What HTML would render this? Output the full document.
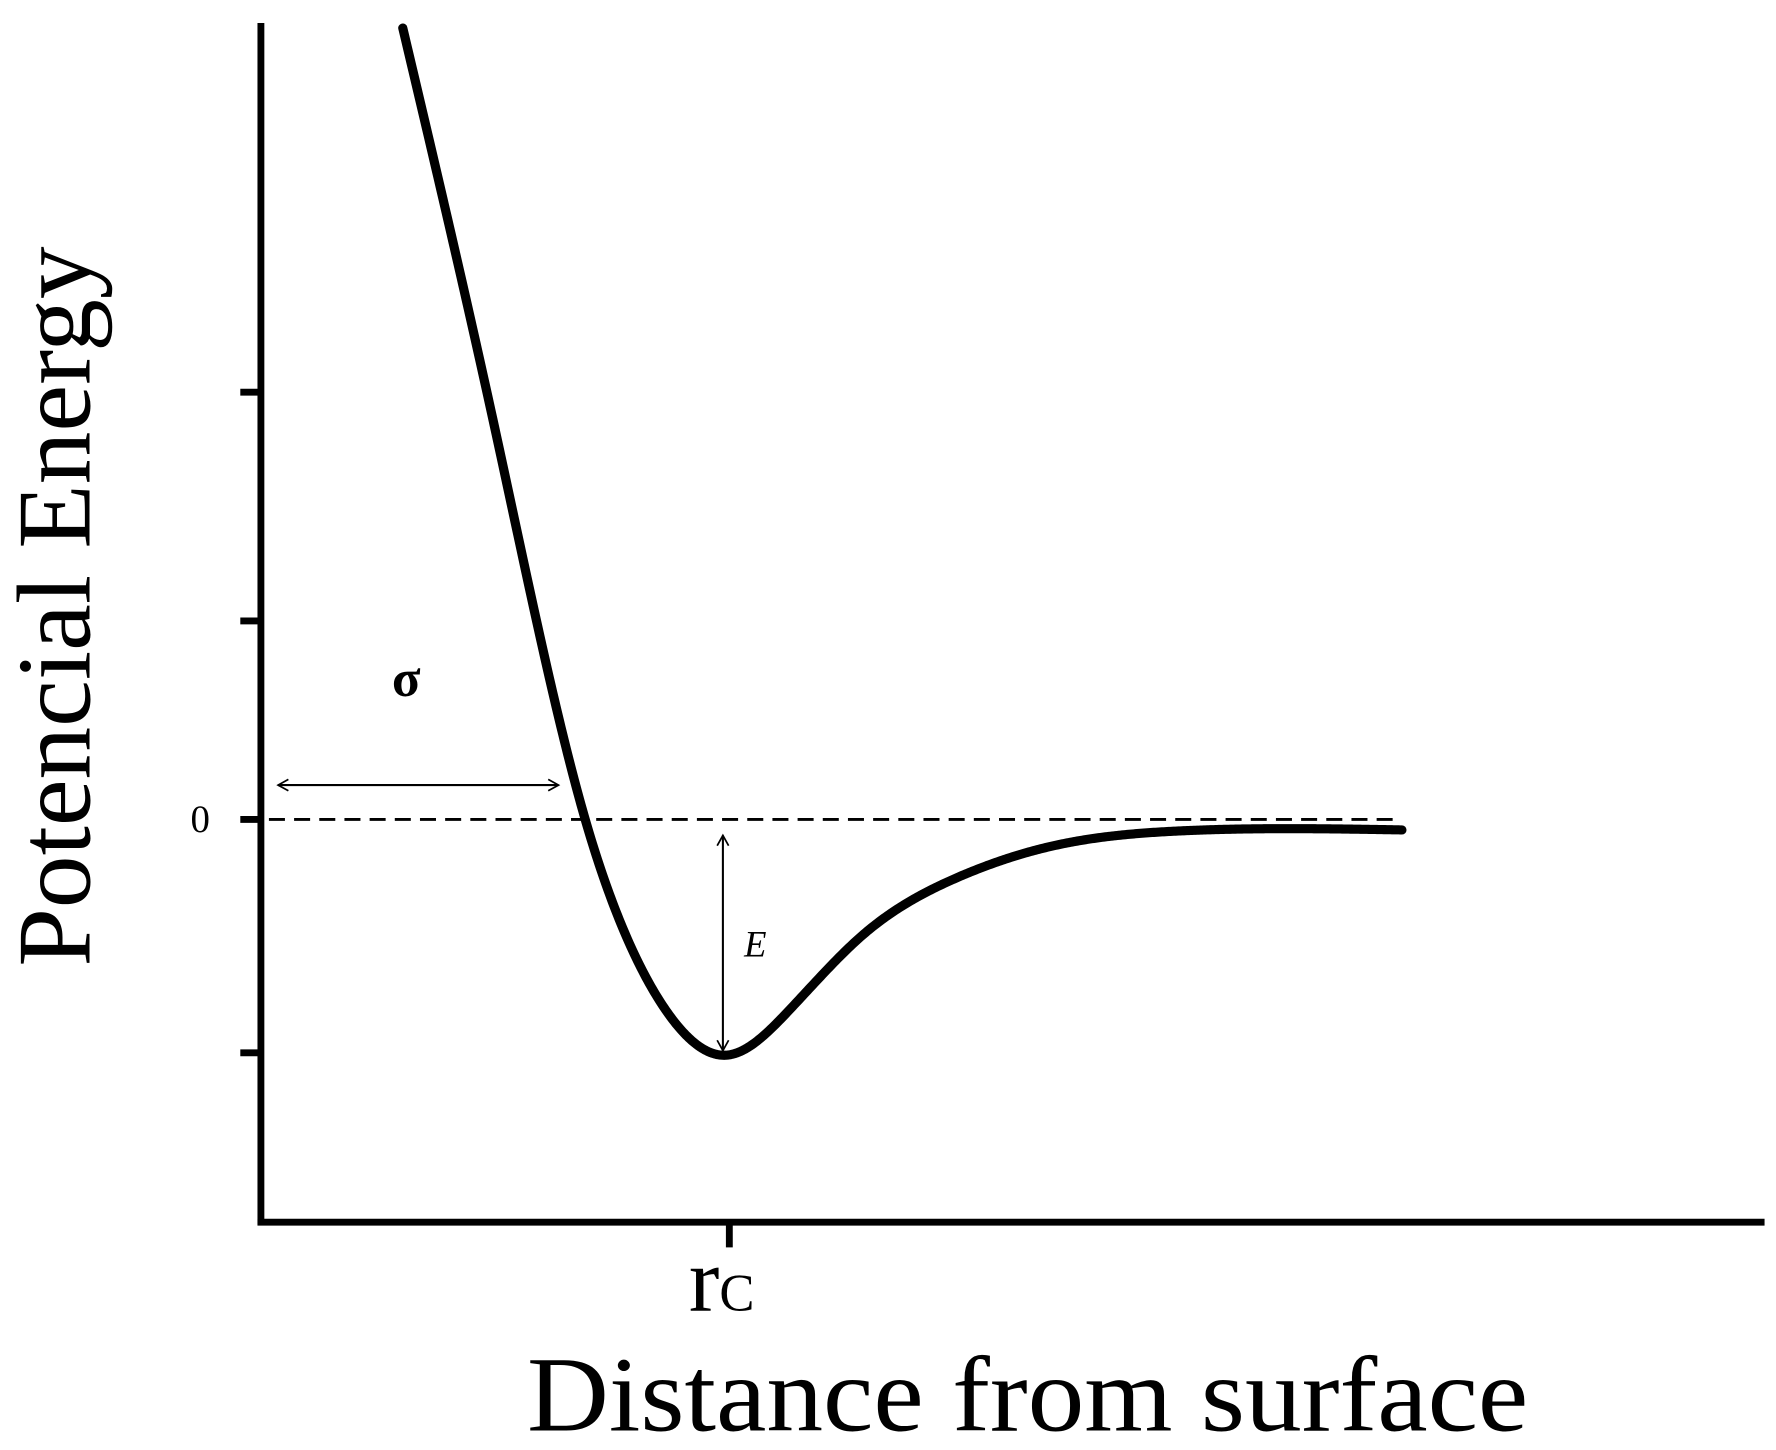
<!DOCTYPE html>
<html><head><meta charset="utf-8"><style>
html,body{margin:0;padding:0;background:#fff;}
svg{display:block;}
text{font-family:"Liberation Serif",serif;fill:#000;}
</style></head><body>
<svg id="chart" width="1776" height="1450" viewBox="0 0 1552 1267" xmlns="http://www.w3.org/2000/svg">
<defs>
<marker id="ah" markerWidth="12" markerHeight="12" refX="10" refY="6" orient="auto-start-reverse" markerUnits="userSpaceOnUse">
<path d="M1,1 L10,6 L1,11" fill="none" stroke="#000" stroke-width="1.5"/>
</marker>
</defs>
<g id="axes"></g>
<g id="marks"></g>
<text transform="translate(78,530) rotate(-90)" text-anchor="middle" font-size="92">Potencial Energy</text>
<text x="898" y="1250" text-anchor="middle" font-size="94" textLength="875" lengthAdjust="spacingAndGlyphs">Distance from surface</text>
<text x="602" y="1145" font-size="80">r<tspan font-size="46">C</tspan></text>
<text x="175" y="727" text-anchor="middle" font-size="34">0</text>
<text x="355" y="608" text-anchor="middle" font-size="46" font-weight="bold">σ</text>
<text x="660" y="836" text-anchor="middle" font-size="32" font-style="italic">E</text>
</svg>
<script>
const curveX = [0.945, 1.56, 2.16, 2.40, 2.70, 3.10, 3.50, 4.00, 4.60, 5.30, 6.10, 7.6];
const curveY = [3.39, 1.67, 0, -0.45, -0.82, -1.01, -0.83, -0.50, -0.26, -0.11, -0.05, -0.045];
const yTicks = [1.83, 0.85, 0, -1];
const xTicks = [3.12];
const minimumX = 3.10;
const minimumY = -1;
const sigmaX = 2.15;

const NS = "http://www.w3.org/2000/svg";
const X0 = 228, XS = 131.2, Y0 = 716, YS = 204;
function sx(v){ return X0 + v*XS; }
function sy(v){ return Y0 - v*YS; }
function mk(tag, attrs, parent){
  const e = document.createElementNS(NS, tag);
  for (const k in attrs) e.setAttribute(k, attrs[k]);
  parent.appendChild(e); return e;
}
const axes = document.getElementById('axes');
const marks = document.getElementById('marks');

const ya = mk('line', {x1:228,y1:20,x2:228,y2:1070,stroke:'#000','stroke-width':6}, axes);


const xa = mk('line', {x1:225,y1:1068,x2:1542,y2:1068,stroke:'#000','stroke-width':6}, axes);


yTicks.forEach(t => {
  const l = mk('line', {x1:210,y1:sy(t),x2:228,y2:sy(t),stroke:'#000','stroke-width':6}, axes);
  
  
});
xTicks.forEach(t => {
  const l = mk('line', {x1:sx(t),y1:1068,x2:sx(t),y2:1090,stroke:'#000','stroke-width':6}, axes);
  
  
});

const zl = mk('line', {x1:235,y1:sy(0),x2:1225,y2:sy(0),stroke:'#000','stroke-width':2.5,'stroke-dasharray':'14,8'}, marks);



// natural cubic spline through data points
const n = curveX.length;
const h = [], al = [], l = [1], mu = [0], z = [0], c = new Array(n).fill(0), b = [], dd = [];
for (let i=0;i<n-1;i++) h.push(curveX[i+1]-curveX[i]);
for (let i=1;i<n-1;i++) al[i] = 3/h[i]*(curveY[i+1]-curveY[i]) - 3/h[i-1]*(curveY[i]-curveY[i-1]);
for (let i=1;i<n-1;i++){
  l[i] = 2*(curveX[i+1]-curveX[i-1]) - h[i-1]*mu[i-1];
  mu[i] = h[i]/l[i];
  z[i] = (al[i]-h[i-1]*z[i-1])/l[i];
}
l[n-1]=1; z[n-1]=0; c[n-1]=0;
for (let j=n-2;j>=0;j--){
  c[j] = z[j]-mu[j]*c[j+1];
  b[j] = (curveY[j+1]-curveY[j])/h[j] - h[j]*(c[j+1]+2*c[j])/3;
  dd[j] = (c[j+1]-c[j])/(3*h[j]);
}
function spl(x){
  let j = 0; while (j<n-2 && x>curveX[j+1]) j++;
  const t = x-curveX[j];
  return curveY[j]+b[j]*t+c[j]*t*t+dd[j]*t*t*t;
}
let d = '';
const steps = 600;
for (let k=0;k<=steps;k++){
  const x = curveX[0] + (curveX[n-1]-curveX[0])*k/steps;
  d += (k?' L':'M') + sx(x).toFixed(2) + ',' + sy(spl(x)).toFixed(2);
}
const curve = mk('path', {d:d,fill:'none',stroke:'#000','stroke-width':8,'stroke-linecap':'round','stroke-linejoin':'round'}, marks);



const sa = mk('line', {x1:243,y1:686,x2:sx(sigmaX)-22,y2:686,stroke:'#000','stroke-width':1.8,'marker-start':'url(#ah)','marker-end':'url(#ah)'}, marks);


const ea = mk('line', {x1:sx(minimumX)-3,y1:sy(0)+14,x2:sx(minimumX)-3,y2:sy(minimumY)-2,stroke:'#000','stroke-width':1.8,'marker-start':'url(#ah)','marker-end':'url(#ah)'}, marks);


</script>
</body></html>
